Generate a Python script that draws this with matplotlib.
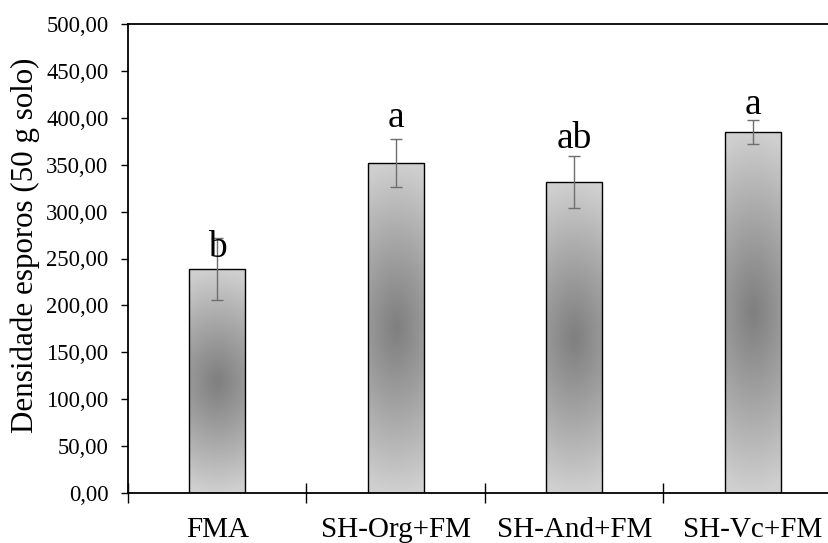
import numpy as np
import matplotlib
matplotlib.use("Agg")
import matplotlib.pyplot as plt

categories = ["FMA", "SH-Org+FM", "SH-And+FM", "SH-Vc+FM"]
means = [238.7, 352.2, 331.3, 384.9]
errors = [32.8, 25.5, 27.7, 12.8]
letters = ["b", "a", "ab", "a"]
letter_y = [252, 390, 368, 404]
y_ticks = [0, 50, 100, 150, 200, 250, 300, 350, 400, 450, 500]

plt.rcParams["font.family"] = ["Liberation Serif", "DejaVu Serif"]

fig = plt.figure(figsize=(8.29, 5.43), dpi=100)
ax = fig.add_axes([128 / 829, 50 / 543, 714 / 829, 469 / 543])

x = np.arange(len(categories))
bar_w = 0.314
bars = ax.bar(x, means, width=bar_w, facecolor="none", edgecolor="black",
              linewidth=1.0, zorder=3)

# radial-style gray shading inside each bar
ny, nx = 300, 60
for rect in bars:
    yy = np.linspace(-1, 1, ny)[:, None]
    xx = np.linspace(-1, 1, nx)[None, :]
    d = np.sqrt(yy ** 2 + (0.35 * xx) ** 2)
    d = np.clip(d, 0, 1)
    g = 0.50 + (0.815 - 0.50) * d ** 1.1
    img = np.dstack([g, g, g])
    x0 = rect.get_x()
    im = ax.imshow(img, extent=[x0, x0 + rect.get_width(), 0, rect.get_height()],
                   origin="lower", aspect="auto", zorder=2, interpolation="bilinear")
    im.set_clip_path(rect)

ax.errorbar(x, means, yerr=errors, fmt="none", ecolor="#6e6e6e",
            elinewidth=1.0, capsize=4.5, capthick=1.0, zorder=4)

for xi, t, ly in zip(x, letters, letter_y):
    ax.text(xi, ly, t, ha="center", va="baseline", fontsize=27, zorder=5)

ax.set_xlim(-0.5, len(categories) - 0.5)
ax.set_ylim(0, 500)
ax.set_yticks(y_ticks)
ax.set_yticklabels([f"{v:.2f}".replace(".", ",") for v in y_ticks], fontsize=16.3)

ax.set_xticks(np.arange(len(categories) + 1) - 0.5)
ax.set_xticklabels([])
ax.set_xticks(x, minor=True)
ax.set_xticklabels(categories, minor=True, fontsize=21)
ax.tick_params(axis="x", which="major", direction="inout", length=14, width=1.0)
ax.tick_params(axis="x", which="minor", length=0, pad=17)
ax.tick_params(axis="y", direction="out", length=5, width=1.0, pad=9)

for s in ax.spines.values():
    s.set_linewidth(1.3)
ax.spines["right"].set_visible(False)

fig.text(25 / 829, 1 - 245 / 543, "Densidade esporos (50 g solo)", rotation=90,
         ha="center", va="center", fontsize=22.3)

fig.savefig("out.png", dpi=100)
